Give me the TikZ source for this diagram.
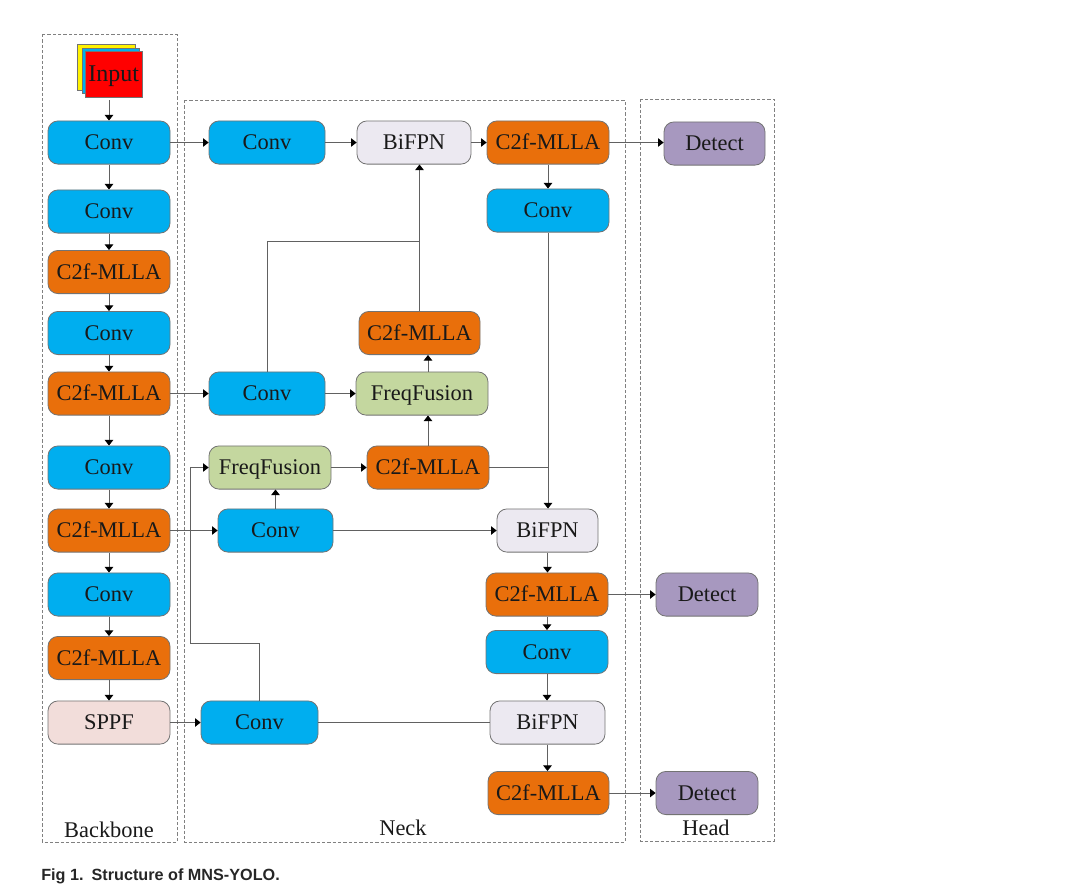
\documentclass[tikz,border=0pt]{standalone}
\usepackage{fontspec}
\setmainfont{Liberation Serif}
\newfontfamily\captionfont{Liberation Sans}
\usetikzlibrary{arrows.meta}
\colorlet{LineGray}{black!62}
\definecolor{ConvFill}{HTML}{00AEEF}
\definecolor{MllaFill}{HTML}{E96F0B}
\definecolor{FusionFill}{HTML}{C4D79F}
\definecolor{BifpnFill}{HTML}{ECE9F1}
\definecolor{SppfFill}{HTML}{F2DDDA}
\definecolor{DetectFill}{HTML}{A798BF}
\tikzset{
    block/.style={
        draw=black!55, line width=0.6pt, rounded corners=7.5pt, inner sep=0pt,
        minimum height=32.4pt, text height=12.5pt, text depth=2pt,
        font=\fontsize{16.8}{18}\selectfont, text=black!90
    },
    wd/.style={minimum width=#1*0.75pt},
    conv/.style={block, fill=ConvFill},
    mlla/.style={block, fill=MllaFill},
    fusion/.style={block, fill=FusionFill},
    bifpn/.style={block, fill=BifpnFill},
    sppf/.style={block, fill=SppfFill},
    detect/.style={block, fill=DetectFill},
    sheet/.style={draw=black!55, line width=0.5pt},
    frame/.style={draw=black!50, line width=0.6pt, dash pattern=on 2.4pt off 1.6pt},
    region label/.style={font=\fontsize{16.8}{18}\selectfont, text=black!90, inner sep=0pt},
    flow/.style={draw=LineGray, line width=0.65pt},
    arrow/.style={flow, -{Triangle[length=4.2pt, width=6.4pt, black]}},
}
\begin{document}
\begin{tikzpicture}[x=0.75pt, y=-0.75pt]
\useasboundingbox (0,0) rectangle (1080,883);

% Marcos punteados
\draw[frame] (42,34) rectangle (177,842);
\draw[frame] (184,100) rectangle (625,842);
\draw[frame] (640,99) rectangle (774,841);

\node[region label] (backbone) at (109,830) {Backbone};
\node[region label] (neck) at (403,828) {Neck};
\node[region label] (head) at (706,828) {Head};

% Entrada: tres hojas apiladas
\fill[yellow, sheet] (77,44) rectangle (135,90);
\fill[ConvFill, sheet] (82,48) rectangle (139,93);
\node[sheet, fill=red, minimum width=57.5*0.75pt, minimum height=46*0.75pt, inner sep=0pt,
    text height=13.5pt, text depth=2pt,
    font=\fontsize{18}{20}\selectfont, text=black!90] (input) at (113.7,74) {Input};

% Backbone
\node[conv, wd=122] (bb1) at (109,142.5) {Conv};
\node[conv, wd=122] (bb2) at (109,211.5) {Conv};
\node[mlla, wd=122] (bb3) at (109,272) {C2f-MLLA};
\node[conv, wd=122] (bb4) at (109,333) {Conv};
\node[mlla, wd=122] (bb5) at (109,393.5) {C2f-MLLA};
\node[conv, wd=122] (bb6) at (109,467.5) {Conv};
\node[mlla, wd=122] (bb7) at (109,530.5) {C2f-MLLA};
\node[conv, wd=122] (bb8) at (109,594.5) {Conv};
\node[mlla, wd=122] (bb9) at (109,658) {C2f-MLLA};
\node[sppf, wd=122] (bb10) at (109,722.5) {SPPF};

% Neck
\node[conv, wd=116] (nk1) at (267,142.5) {Conv};
\node[bifpn, wd=114] (nk2) at (414,142.5) {BiFPN};
\node[mlla, wd=122] (nk3) at (548,142.5) {C2f-MLLA};
\node[conv, wd=122] (nk4) at (548,210.5) {Conv};
\node[mlla, wd=121] (nk5) at (419.5,333) {C2f-MLLA};
\node[conv, wd=116] (nk6) at (267,393.5) {Conv};
\node[fusion, wd=132] (nk7) at (422,393.5) {FreqFusion};
\node[fusion, wd=122] (nk8) at (270,467.5) {FreqFusion};
\node[mlla, wd=122] (nk9) at (428,467.5) {C2f-MLLA};
\node[conv, wd=115] (nk10) at (275.5,530.5) {Conv};
\node[bifpn, wd=101] (nk11) at (547.5,530.5) {BiFPN};
\node[mlla, wd=122] (nk12) at (547,594.5) {C2f-MLLA};
\node[conv, wd=122] (nk13) at (547,652) {Conv};
\node[bifpn, wd=115] (nk14) at (547.5,722.5) {BiFPN};
\node[conv, wd=117] (nk15) at (259.5,722.5) {Conv};
\node[mlla, wd=121] (nk16) at (548.5,793) {C2f-MLLA};

% Head
\node[detect, wd=101] (hd1) at (714.5,143.5) {Detect};
\node[detect, wd=102] (hd2) at (707,594.5) {Detect};
\node[detect, wd=102] (hd3) at (707,793) {Detect};

\coordinate (inputout) at (109,100);
\coordinate (kneeA) at (267,241);
\coordinate (kneeB) at (259.5,643);
\coordinate (kneeC) at (190,643);
\coordinate (kneeD) at (190,467.5);

% Conexiones del backbone
\draw[arrow] (inputout) -- (bb1);
\draw[arrow] (bb1) -- (bb2);
\draw[arrow] (bb2) -- (bb3);
\draw[arrow] (bb3) -- (bb4);
\draw[arrow] (bb4) -- (bb5);
\draw[arrow] (bb5) -- (bb6);
\draw[arrow] (bb6) -- (bb7);
\draw[arrow] (bb7) -- (bb8);
\draw[arrow] (bb8) -- (bb9);
\draw[arrow] (bb9) -- (bb10);

% Del backbone al neck
\draw[arrow] (bb1) -- (nk1);
\draw[arrow] (bb5) -- (nk6);
\draw[arrow] (bb7) -- (nk10);
\draw[arrow] (bb10) -- (nk15);

% Conexiones del neck
\draw[arrow] (nk1) -- (nk2);
\draw[arrow] (nk2) -- (nk3);
\draw[arrow] (nk3) -- (nk4);
\draw[arrow] (nk4.south) -- (nk11.north -| nk4.south);
\draw[arrow] (nk5.north) -- (nk5.north |- nk2.south);
\draw[flow] (nk6.north) -- (kneeA) -- (kneeA -| nk5.north);
\draw[arrow] (nk6) -- (nk7);
\draw[arrow] (nk7.north -| nk9.north) -- (nk5.south -| nk9.north);
\draw[arrow] (nk9.north) -- (nk7.south -| nk9.north);
\draw[arrow] (nk8) -- (nk9);
\draw[flow] (nk9.east) -- (nk9.east -| nk4.south);
\draw[arrow] (nk10.north) -- (nk8.south -| nk10.north);
\draw[arrow] (nk10) -- (nk11);
\draw[arrow] (nk11.south) -- (nk12.north -| nk11.south);
\draw[arrow] (nk12) -- (nk13);
\draw[arrow] (nk13.south) -- (nk14.north -| nk13.south);
\draw[flow] (nk15.north) -- (kneeB) -- (kneeC) -- (kneeD);
\draw[arrow] (kneeD) -- (nk8);
\draw[flow] (nk15) -- (nk14);
\draw[arrow] (nk14.south) -- (nk16.north -| nk14.south);

% Salidas hacia el head
\draw[arrow] (nk3) -- (nk3 -| hd1.west);
\draw[arrow] (nk12) -- (hd2);
\draw[arrow] (nk16) -- (hd3);

\node[anchor=base west, inner sep=0pt, font=\captionfont\bfseries\fontsize{12.15}{14}\selectfont, text=black!85]
    (figcaption) at (41,880) {Fig 1.\hspace{0.5em}Structure of MNS-YOLO.};
\end{tikzpicture}
\end{document}
